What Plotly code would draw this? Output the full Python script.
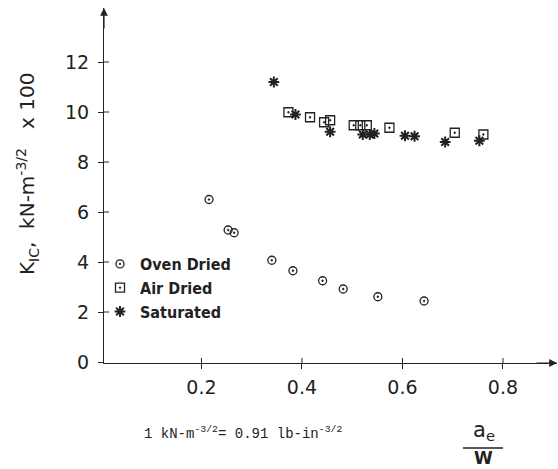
import plotly.graph_objects as go

# Data
oven_x = [0.215, 0.253, 0.265, 0.340, 0.382, 0.441, 0.482, 0.551, 0.643]
oven_y = [6.50, 5.28, 5.17, 4.07, 3.65, 3.25, 2.92, 2.61, 2.44]

air_x = [0.373, 0.416, 0.444, 0.456, 0.503, 0.516, 0.529, 0.574, 0.704, 0.761]
air_y = [9.99, 9.79, 9.59, 9.67, 9.47, 9.47, 9.47, 9.37, 9.17, 9.10]

sat_x = [0.344, 0.387, 0.456, 0.521, 0.535, 0.544, 0.605, 0.624, 0.685, 0.753]
sat_y = [11.20, 9.90, 9.21, 9.10, 9.10, 9.14, 9.05, 9.03, 8.80, 8.85]

x_ticks = [0.2, 0.4, 0.6, 0.8]
x_tick_labels = ["0.2", "0.4", "0.6", "0.8"]
y_ticks = [0, 2, 4, 6, 8, 10, 12]
y_tick_labels = ["0", "2", "4", "6", "8", "10", "12"]

INK = "#222222"
XR = [0.006, 0.9075]
YR = [-0.04, 14.16]

fig = go.Figure()
fig.add_trace(go.Scatter(x=oven_x, y=oven_y, mode="markers", name="Oven Dried",
                         marker=dict(symbol="circle-open-dot", size=8, color=INK,
                                     line=dict(width=1.3, color=INK))))
fig.add_trace(go.Scatter(x=air_x, y=air_y, mode="markers", name="Air Dried",
                         marker=dict(symbol="square-open-dot", size=9, color=INK,
                                     line=dict(width=1.3, color=INK))))
fig.add_trace(go.Scatter(x=sat_x, y=sat_y, mode="markers", name="Saturated",
                         marker=dict(symbol="asterisk-open", size=9, color=INK,
                                     line=dict(width=2, color=INK))))

tickfont = dict(family="DejaVu Sans, sans-serif", size=19, color=INK)

fig.update_layout(
    width=558, height=469,
    margin=dict(l=104, r=1, t=8, b=106),
    paper_bgcolor="white", plot_bgcolor="white",
    showlegend=True,
    legend=dict(x=(100 - 104) / 453, y=(363 - 247) / 355, xanchor="left", yanchor="top",
                bgcolor="rgba(0,0,0,0)", borderwidth=0, itemwidth=30,
                tracegroupgap=0,
                font=dict(family="DejaVu Sans Condensed, DejaVu Sans, sans-serif",
                          size=16, color=INK, weight="bold")),
    xaxis=dict(range=XR, showgrid=False, zeroline=False, showline=True,
               linecolor=INK, linewidth=1.2, tickmode="array",
               tickvals=x_ticks, ticktext=x_tick_labels, ticks="outside",
               ticklen=5, tickwidth=1, tickcolor=INK, tickfont=tickfont,
               ticklabelstandoff=2),
    yaxis=dict(range=YR, showgrid=False, zeroline=False, showline=True,
               linecolor=INK, linewidth=1.2, tickmode="array",
               tickvals=y_ticks, ticktext=y_tick_labels, ticks="outside",
               ticklen=5, tickwidth=1, tickcolor=INK, tickfont=tickfont,
               ticklabelstandoff=5),
)

# Inner halves of the crossing tick marks, positioned from the tick arrays
for t in x_ticks:
    fig.add_shape(type="line", xref="x", yref="paper", ysizemode="pixel", yanchor=0,
                  x0=t, x1=t, y0=0, y1=5, line=dict(color=INK, width=1))
for t in y_ticks[1:]:
    fig.add_shape(type="line", xref="paper", yref="y", xsizemode="pixel", xanchor=0,
                  y0=t, y1=t, x0=0, x1=5, line=dict(color=INK, width=1))

# Axis arrows
fig.add_annotation(x=1, y=0, xref="paper", yref="paper", ax=-22, ay=0,
                   showarrow=True, arrowhead=2, arrowsize=1.3, arrowwidth=1.2,
                   arrowcolor=INK, text="")
fig.add_annotation(x=0, y=1, xref="paper", yref="paper", ax=0, ay=22,
                   showarrow=True, arrowhead=2, arrowsize=1.3, arrowwidth=1.2,
                   arrowcolor=INK, text="")

# Y-axis title
fig.add_annotation(x=(27 - 104) / 453, y=(363 - 174) / 355, xref="paper", yref="paper",
                   xanchor="center", yanchor="middle",
                   text="K<sub>IC</sub>,  kN-m<sup>-3/2</sup>   x 100", textangle=-90,
                   showarrow=False,
                   font=dict(family="DejaVu Sans, sans-serif", size=20, color=INK))

# Unit conversion note
fig.add_annotation(x=(243 - 104) / 453, y=(363 - 433) / 355, xref="paper", yref="paper",
                   xanchor="center", yanchor="middle",
                   text="1 kN-m<sup>-3/2</sup>= 0.91 lb-in<sup>-3/2</sup>",
                   showarrow=False,
                   font=dict(family="Liberation Mono, monospace", size=14, color=INK))

# a_e / W label
fig.add_annotation(x=(484 - 104) / 453, y=(363 - 446) / 355, xref="paper", yref="paper",
                   xanchor="center", yanchor="bottom",
                   text="a<sub>e</sub>", showarrow=False,
                   font=dict(family="DejaVu Sans, sans-serif", size=21, color=INK))
fig.add_annotation(x=(483 - 104) / 453, y=(363 - 458) / 355, xref="paper", yref="paper",
                   xanchor="center", yanchor="middle",
                   text="<b>W</b>", showarrow=False,
                   font=dict(family="DejaVu Sans, sans-serif", size=17, color=INK))
fig.add_shape(type="line", xref="paper", yref="paper",
              x0=(463 - 104) / 453, x1=(503 - 104) / 453,
              y0=(363 - 448) / 355, y1=(363 - 448) / 355,
              line=dict(color=INK, width=1.5))

fig.write_html("out.html")
